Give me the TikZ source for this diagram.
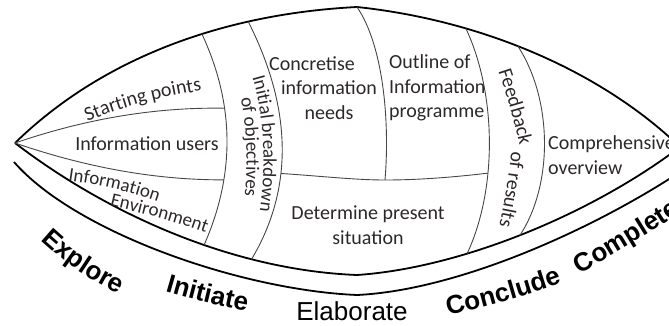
\documentclass[tikz,border=0pt]{standalone}
\usepackage{fontspec}
\setmainfont{Carlito}
\newfontfamily\bandfamily{Liberation Sans}
\usetikzlibrary{decorations.text}
\definecolor{inkgray}{RGB}{45,40,40}
\definecolor{rulegray}{RGB}{70,70,70}
\newcommand\bodysize{\fontsize{20}{24.5}\selectfont}
\newcommand\slantsize{\fontsize{19}{23}\selectfont}
\newcommand\bandbold{\bandfamily\bfseries\fontsize{26}{30}\selectfont}
\newcommand\bandplain{\bandfamily\fontsize{26}{30}\selectfont}

\begin{document}
\begin{tikzpicture}[x=1pt,y=-1pt,
  rim/.style={line width=1.8pt, black, line join=round},
  seam/.style={line width=0.9pt, rulegray},
  blocktext/.style={font=\bodysize, text=inkgray, inner sep=0pt, align=center},
  arctext/.style={decorate, decoration={text along path, text align=center,
      text color=inkgray, text={#1}}},
  bandtext/.style={decorate, decoration={text along path, text align=center,
      text color=black, text={#1}}},
]
\useasboundingbox (0,0) rectangle (669,325);
\clip (0,0) rectangle (669,325);

% tips, peak and lowest points of the lens and of the outer band
\coordinate (L) at (15,143);
\coordinate (T) at (357,7);
\coordinate (R) at (680,147);
\coordinate (B) at (357,275);
\coordinate (BL) at (14,162);
\coordinate (BM) at (357,295);
\coordinate (BE) at (680,172);

% lens outline: upper and lower edge
\draw[rim] (L) .. controls (100,60) and (220,14) .. (T)
    coordinate[pos=.6] (top1) coordinate[pos=.725] (top2)
  .. controls (480,20) and (600,70) .. (R)
    coordinate[pos=.3] (top4) coordinate[pos=.45] (top5);
\draw[rim] (L) .. controls (105,212) and (230,270) .. (B)
    coordinate[pos=.59] (bot1) coordinate[pos=.72] (bot2)
  .. controls (460,268) and (590,215) .. (R)
    coordinate[pos=.335] (bot4) coordinate[pos=.49] (bot5);

% outer band below the lens
\draw[rim] (BL) .. controls (75,232) and (240,290) .. (BM)
  .. controls (460,290) and (595,228) .. (BE);

% phase boundaries
\draw[seam] (top1) .. controls (235,105) and (235,175) .. (bot1)
    coordinate[pos=.35] (c1a) coordinate[pos=.69] (c1b);
\draw[seam] (top2) .. controls (293,110) and (293,190) .. (bot2)
    coordinate[pos=.61] (c2a);
\coordinate (D3) at (385,180);
\draw[seam] (T) .. controls (383,45) and (390,120) .. (D3);
\draw[seam] (top4) .. controls (497,95) and (497,190) .. (bot4)
    coordinate[pos=.63] (c4a);
\draw[seam] (top5) .. controls (553,100) and (553,185) .. (bot5);
\draw[seam] (c2a) .. controls (320,176) and (355,180) .. (D3)
  .. controls (420,180) and (455,177) .. (c4a);

% fan of the explore phase
\draw[seam] (L) .. controls (85,119) and (155,107) .. (c1a);
\draw[seam] (L) .. controls (85,167) and (154,180) .. (c1b);

% straight labels
\node[blocktext] (users) at (147,144) {Information users};
\node[blocktext] (needs) at (329,88) {Concretise\hspace*{1.7em}\\information\\needs};
\node[blocktext, align=left, anchor=west] (outline) at (389,88)
  {Outline of\\Information\\programme};
\node[blocktext] (present) at (368,225) {Determine present\\situation};
\node[blocktext, align=left, anchor=west] (overview) at (548,155)
  {Comprehensive\\overview};

% labels following the curves
\path[arctext={|\bodysize|Starting points}]
  (75,127) .. controls (120,107) and (165,95) .. (215,89);
\path[arctext={|\slantsize|Information}]
  (50,178) .. controls (90,183) and (130,190) .. (175,208);
\path[arctext={|\slantsize|Environment}]
  (90,201) .. controls (125,210) and (170,218) .. (225,240);
\path[arctext={|\slantsize|Initial breakdown}]
  (238,40) .. controls (268,100) and (270,180) .. (252,250);
\path[arctext={|\slantsize|of objectives}]
  (228,50) .. controls (250,110) and (252,185) .. (236,245);
\path[arctext={|\bodysize|Feedback}]
  (495,61) .. controls (505,91) and (515,121) .. (522,156);
\path[arctext={|\bodysize|of results}]
  (512,145) .. controls (510,170) and (505,200) .. (498,232);

% phase names along the band
\path[bandtext={|\bandbold|Explore}]
  (24,224) .. controls (56,259) and (98,287) .. (140,303);
\path[bandtext={|\bandbold|Initiate}]
  (150,287) .. controls (185,298) and (225,308) .. (262,314);
\path[bandtext={|\bandplain|Elaborate}]
  (280,320) -- (424,320);
\path[bandtext={|\bandbold|Conclude}]
  (440,318) .. controls (480,308) and (530,295) .. (570,280);
\path[bandtext={|\bandbold|Complete}]
  (560,285) .. controls (600,263) and (640,240) .. (700,200);
\end{tikzpicture}
\end{document}
